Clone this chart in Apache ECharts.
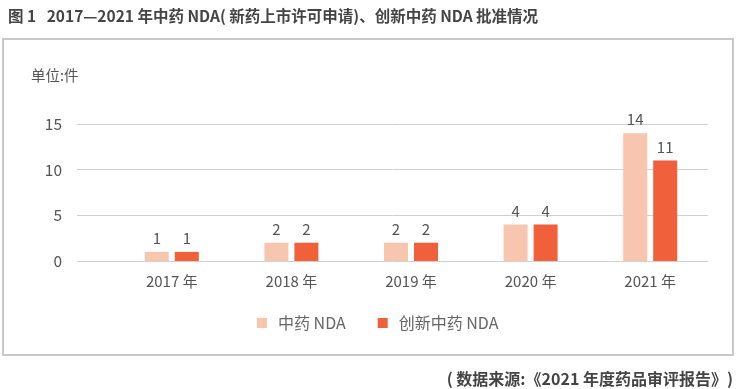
<!DOCTYPE html>
<html><head><meta charset="utf-8">
<script src="https://cdn.jsdelivr.net/npm/echarts@6/dist/echarts.min.js"></script>
<style>html,body{margin:0;padding:0;background:#fff}#c{width:742px;height:389px}</style>
</head><body><div id="c"></div>
<script>
const categories = ['2017 年', '2018 年', '2019 年', '2020 年', '2021 年'];
const tcmNDA = [1, 2, 2, 4, 14];
const innovativeTcmNDA = [1, 2, 2, 4, 11];
const yTicks = [0, 5, 10, 15];
const seriesNames = ['中药 NDA', '创新中药 NDA'];

const chart = echarts.init(document.getElementById('c'));
const font = '"Noto Sans CJK SC", "Noto Sans", sans-serif';
const gridTop = 124, gridBottom = 389 - 261;
chart.setOption({
  animation: false,
  textStyle: { fontFamily: font },
  title: [
    { text: '图 1   2017—2021 年中药 NDA( 新药上市许可申请)、创新中药 NDA 批准情况', left: 3, top: 3,
      textStyle: { fontSize: 15.5, fontWeight: 'bold', color: '#444', fontFamily: font } },
    { text: '( 数据来源:《2021 年度药品审评报告》)', right: 4, top: 366,
      textStyle: { fontSize: 16, fontWeight: 'bold', color: '#444', fontFamily: font } },
    { text: '单位:件', left: 26, top: 63,
      textStyle: { fontSize: 14.5, fontWeight: 'normal', color: '#555', fontFamily: font } }
  ],
  graphic: [
    { type: 'rect', shape: { x: 3, y: 39, width: 730, height: 316 },
      style: { fill: 'none', stroke: '#c8c8c8', lineWidth: 2 }, silent: true }
  ],
  legend: {
    data: seriesNames, top: 310, left: 252, itemWidth: 10, itemHeight: 10, itemGap: 32,
    icon: 'rect', textStyle: { fontSize: 16, color: '#666', fontFamily: font, padding: [0, 0, 0, 6] }
  },
  grid: [
    { left: 112, right: 32, top: gridTop, bottom: gridBottom },
    { left: 77, right: 34, top: gridTop, bottom: gridBottom }
  ],
  xAxis: [
    { type: 'category', gridIndex: 0, data: categories,
      axisLine: { show: false }, axisTick: { show: false },
      axisLabel: { fontSize: 15, color: '#555', margin: 13 } },
    { type: 'category', gridIndex: 1, data: [''], show: false }
  ],
  yAxis: [
    { type: 'value', gridIndex: 0, min: 0, max: 15, interval: 5, show: false },
    { type: 'value', gridIndex: 1, min: 0, max: 15, interval: 5,
      axisLine: { show: false }, axisTick: { show: false },
      axisLabel: { fontSize: 15.5, color: '#555', margin: 15,
        formatter: v => yTicks.includes(v) ? String(v) : '' },
      splitLine: { lineStyle: { color: '#d0d0d0', width: 1 } } }
  ],
  series: [
    { name: seriesNames[0], type: 'bar', xAxisIndex: 0, yAxisIndex: 0, data: tcmNDA,
      barWidth: 24, barGap: '25%',
      itemStyle: { color: '#F8C6AE' },
      label: { show: true, position: 'top', distance: 6, fontSize: 15, color: '#555' } },
    { name: seriesNames[1], type: 'bar', xAxisIndex: 0, yAxisIndex: 0, data: innovativeTcmNDA,
      barWidth: 24,
      itemStyle: { color: '#EF603B' },
      label: { show: true, position: 'top', distance: 6, fontSize: 15, color: '#555' } }
  ]
});
</script></body></html>
